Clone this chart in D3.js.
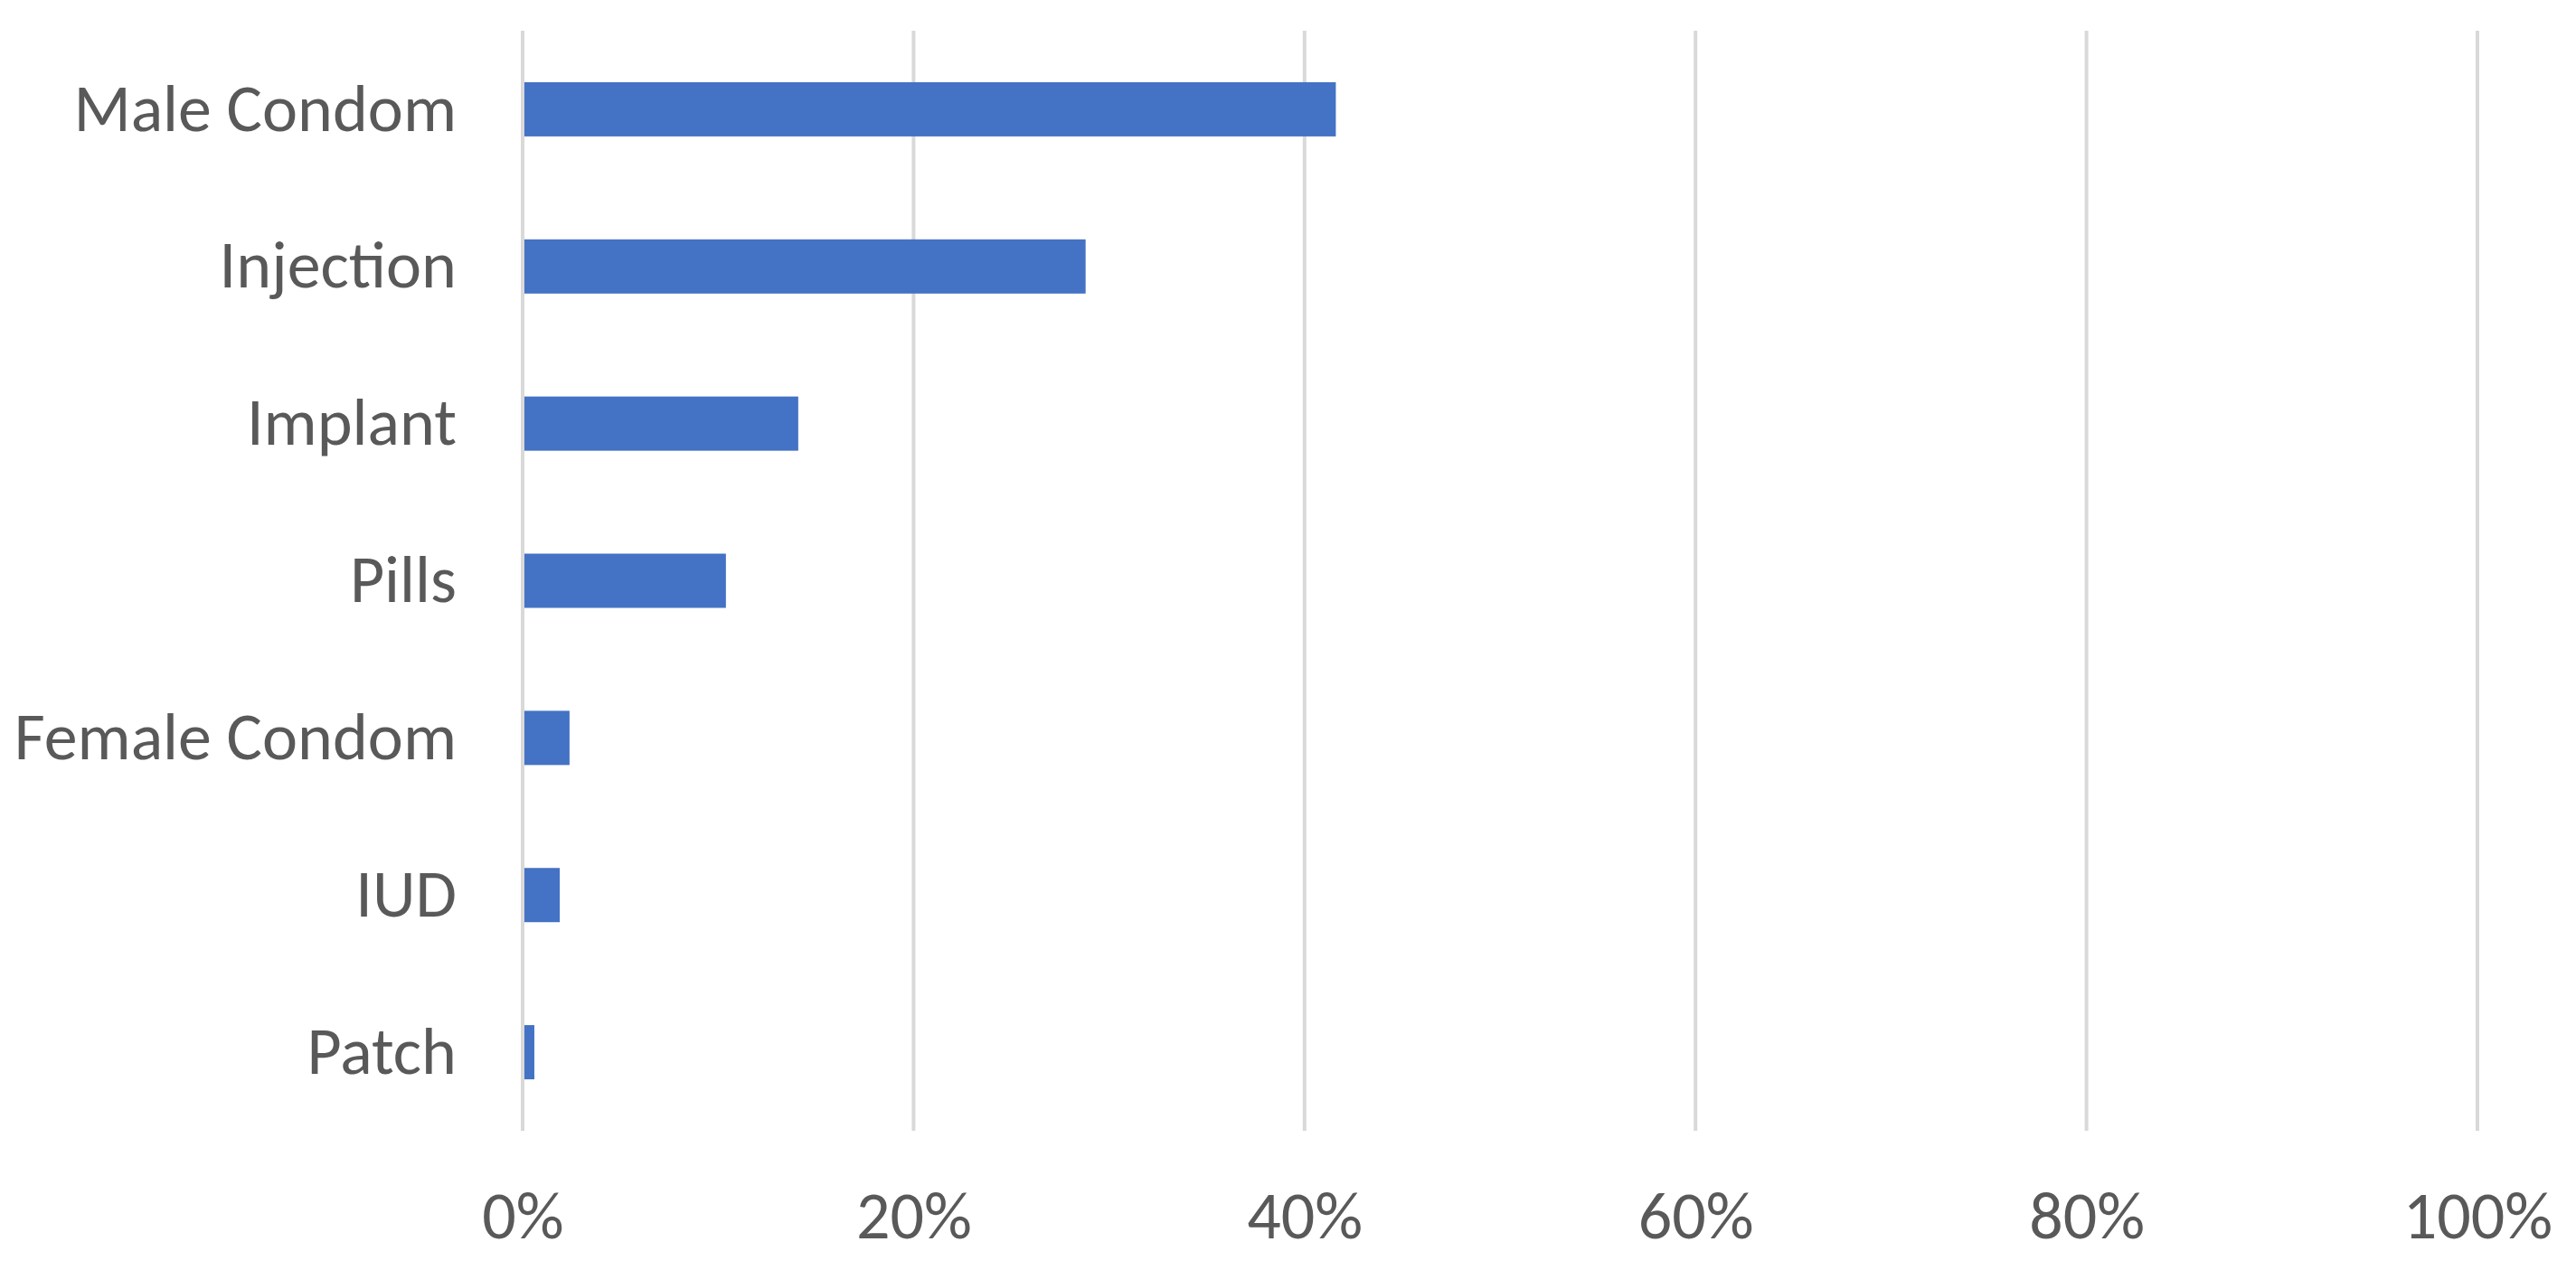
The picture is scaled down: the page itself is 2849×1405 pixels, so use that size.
<!DOCTYPE html>
<html>
<head>
<meta charset="utf-8">
<script src="https://cdn.jsdelivr.net/npm/d3@7"></script>
<style>
  html, body { margin: 0; padding: 0; background: #fff; }
  .chart text { font-family: Carlito, "Liberation Sans Narrow", "Open Sans", sans-serif; fill: #595959; }
</style>
</head>
<body>
<div class="chart"></div>
<script>
const methods = ["Male Condom", "Injection", "Implant", "Pills", "Female Condom", "IUD", "Patch"];
const shares = [0.416, 0.288, 0.141, 0.104, 0.024, 0.019, 0.006];
const tickValues = [0, 0.2, 0.4, 0.6, 0.8, 1.0];

const width = 2849, height = 1405;
const margin = { top: 34, right: 109, bottom: 154, left: 578 };

const svg = d3.select(".chart")
    .append("svg")
    .attr("width", width)
    .attr("height", height);

const x = d3.scaleLinear()
    .domain([0, 1])
    .range([margin.left, width - margin.right]);

const y = d3.scaleBand()
    .domain(methods)
    .range([margin.top, height - margin.bottom])
    .paddingInner(0.655)
    .paddingOuter(0.3275);

// vertical gridlines
svg.append("g")
    .selectAll("line")
    .data(tickValues)
    .enter().append("line")
    .attr("x1", d => x(d)).attr("x2", d => x(d))
    .attr("y1", margin.top).attr("y2", height - margin.bottom)
    .attr("stroke", "#d9d9d9")
    .attr("stroke-width", 4);

// bars
svg.append("g")
    .selectAll("rect")
    .data(methods)
    .enter().append("rect")
    .attr("x", x(0) + 2)
    .attr("y", d => y(d))
    .attr("width", (d, i) => x(shares[i]) - x(0) - 2)
    .attr("height", y.bandwidth())
    .attr("fill", "#4472c4");

// category labels
const yAxis = d3.axisLeft(y).tickSize(0).tickPadding(73);
svg.append("g")
    .attr("class", "y axis")
    .attr("transform", `translate(${margin.left}, 0)`)
    .call(yAxis)
    .call(g => g.select(".domain").remove())
    .selectAll("text")
    .style("font-size", "74px")
    .style("font-family", null)
    .attr("fill", null);

// percent labels
const xAxis = d3.axisBottom(x)
    .tickValues(tickValues)
    .tickSize(0)
    .tickPadding(0)
    .tickFormat(d3.format(".0%"));
svg.append("g")
    .attr("class", "x axis")
    .attr("transform", `translate(0, 1370)`)
    .call(xAxis)
    .call(g => g.select(".domain").remove())
    .selectAll("text")
    .attr("dy", 0)
    .attr("y", 0)
    .style("font-size", "74px")
    .style("font-family", null)
    .attr("fill", null);

d3.selectAll(".axis").attr("font-family", null).attr("font-size", null);
</script>
</body>
</html>
